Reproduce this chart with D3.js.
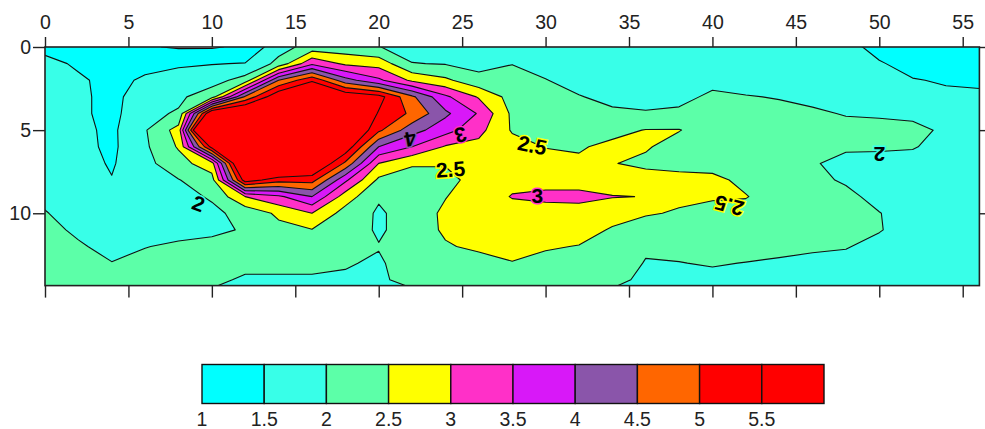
<!DOCTYPE html>
<html><head><meta charset="utf-8">
<script src="https://cdn.jsdelivr.net/npm/d3@7"></script>
<style>
body{margin:0;background:#fff}
svg{display:block}
text{font-family:"Liberation Sans",Arial,sans-serif}
</style></head>
<body><svg id="chart" width="985" height="429"></svg>
<script>
// ---------- data ----------
const levels = [1, 1.5, 2, 2.5, 3, 3.5, 4, 4.5, 5, 5.5];
const levelColors = ['#00FFFF','#38FFE8','#5CFFA8','#FFFF00','#FF30C8','#D818F8','#8A55AA','#FF6600','#FF0000','#FF0000'];
const legendLabels = ['1','1.5','2','2.5','3','3.5','4','4.5','5','5.5'];
const xTickValues = [0, 5, 10, 15, 20, 25, 30, 35, 40, 45, 50, 55];
const yTickValues = [0, 5, 10];
const gridX = [0,2,4,6,8,10,12,14,16,18,20,22,24,26,28,30,32,34,36,38,40,42,44,46,48,50,52,54,56];
const gridY = [0,1,2,3,4,5,6,7,8,9,10,11,12,13,14];
// grid values, one array per column (x), listed from y = 0 downwards
const columnValues = [
  [1.3, 1.7, 1.75, 1.75, 1.75, 1.8, 1.8, 1.85, 1.88, 1.92, 2.02, 2.1, 2.15, 2.15, 2.1],   // x=0
  [1.2, 1.4, 1.6, 1.6, 1.6, 1.62, 1.65, 1.7, 1.75, 1.8, 1.85, 1.94, 2.04, 2.1, 2.1],      // x=2
  [1.1, 1.2, 1.3, 1.35, 1.35, 1.4, 1.4, 1.45, 1.52, 1.7, 1.8, 1.85, 1.9, 2.01, 2.1],      // x=4
  [1.05, 1.3, 1.6, 1.78, 1.88, 1.96, 1.92, 1.86, 1.8, 1.8, 1.85, 1.92, 1.99, 2.09, 2.1],  // x=6
  [0.95, 1.45, 1.65, 1.9, 2.05, 2.7, 2.55, 2.3, 1.98, 1.85, 1.8, 1.9, 2.05, 2.1, 2.1],    // x=8
  [0.95, 1.48, 1.8, 2.3, 6.2, 9.0, 5.7, 2.8, 2.3, 2.05, 1.9, 1.93, 2.1, 2.1, 2.08],       // x=10
  [1.1, 1.52, 2.2, 4.6, 6.5, 7.2, 7.2, 7.0, 5.8, 3.0, 2.15, 2.03, 2.08, 2.1, 1.95],       // x=12
  [1.8, 2.15, 4.5, 6.0, 7.0, 7.3, 7.2, 7.0, 5.2, 3.4, 2.6, 2.35, 2.2, 2.1, 1.95],         // x=14
  [2.2, 3.4, 5.4, 6.8, 7.2, 7.3, 7.0, 6.3, 5.2, 4.0, 3.0, 2.48, 2.3, 2.1, 1.95],          // x=16
  [2.2, 2.9, 4.2, 6.0, 6.5, 6.4, 5.9, 4.9, 3.6, 2.75, 2.3, 2.25, 2.15, 2.03, 1.95],       // x=18
  [2.02, 2.8, 3.6, 5.7, 5.45, 5.1, 4.0, 3.0, 2.4, 2.05, 1.94, 1.94, 2.02, 1.95, 1.9],     // x=20
  [1.75, 2.02, 2.9, 4.6, 4.9, 4.2, 3.5, 2.55, 2.3, 2.25, 2.2, 2.2, 2.2, 2.2, 2.2],        // x=22
  [1.7, 1.97, 2.6, 3.6, 4.1, 3.7, 2.95, 2.55, 2.3, 2.48, 2.6, 2.58, 2.45, 2.3, 2.2],      // x=24
  [1.6, 1.85, 2.15, 2.95, 3.45, 3.15, 2.85, 2.7, 2.75, 2.8, 2.8, 2.75, 2.6, 2.3, 2.2],    // x=26
  [1.6, 1.99, 2.15, 2.3, 2.4, 2.45, 2.7, 2.8, 2.9, 3.02, 2.85, 2.75, 2.65, 2.48, 2.35],   // x=28
  [1.6, 1.8, 2.02, 2.15, 2.25, 2.35, 2.48, 2.7, 2.85, 3.1, 2.8, 2.7, 2.55, 2.35, 2.25],   // x=30
  [1.55, 1.65, 1.8, 2.03, 2.15, 2.25, 2.45, 2.58, 2.85, 3.1, 2.85, 2.7, 2.48, 2.3, 2.2],  // x=32
  [1.55, 1.58, 1.7, 1.85, 2.1, 2.35, 2.62, 2.52, 2.75, 3.02, 2.7, 2.45, 2.3, 2.2, 2.1],   // x=34
  [1.55, 1.58, 1.65, 1.8, 2.05, 2.52, 2.55, 2.4, 2.7, 2.99, 2.55, 2.25, 2.05, 1.98, 1.92],// x=36
  [1.55, 1.6, 1.65, 1.85, 2.1, 2.52, 2.3, 2.35, 2.65, 2.6, 2.45, 2.2, 2.1, 1.99, 1.9],    // x=38
  [1.55, 1.6, 1.85, 2.1, 2.2, 2.25, 2.3, 2.35, 2.6, 2.55, 2.35, 2.25, 2.15, 2.03, 1.9],   // x=40
  [1.55, 1.65, 1.85, 2.02, 2.15, 2.2, 2.25, 2.3, 2.4, 2.52, 2.35, 2.25, 2.15, 1.99, 1.85],// x=42
  [1.6, 1.7, 1.8, 1.98, 2.1, 2.15, 2.2, 2.25, 2.3, 2.3, 2.25, 2.2, 2.1, 1.95, 1.85],      // x=44
  [1.65, 1.7, 1.8, 1.92, 2.05, 2.1, 2.1, 2.03, 2.08, 2.15, 2.15, 2.1, 2.06, 1.9, 1.8],    // x=46
  [1.7, 1.7, 1.8, 1.9, 1.98, 2.1, 2.05, 1.9, 1.96, 2.08, 2.15, 2.1, 2.02, 1.9, 1.8],      // x=48
  [1.3, 1.55, 1.7, 1.85, 1.96, 2.1, 2.04, 1.9, 1.85, 1.9, 2.01, 2.02, 1.9, 1.8, 1.75],    // x=50
  [1.1, 1.3, 1.53, 1.75, 1.93, 2.08, 2.02, 1.9, 1.85, 1.85, 1.85, 1.85, 1.8, 1.75, 1.75], // x=52
  [1.05, 1.2, 1.45, 1.6, 1.8, 1.95, 1.9, 1.85, 1.8, 1.8, 1.8, 1.8, 1.78, 1.75, 1.75],     // x=54
  [1.05, 1.15, 1.4, 1.6, 1.7, 1.75, 1.75, 1.75, 1.75, 1.75, 1.75, 1.75, 1.75, 1.75, 1.75] // x=56
];
// contour labels: text, data position, rotation, halo colour
const labelTexts  = ['2', '4', '3', '2.5', '2.5', '3', '2.5', '2'];
const labelX      = [9.2, 21.9, 24.9, 24.3, 29.2, 29.5, 41.0, 50.0];
const labelY      = [9.4, 5.55, 5.3, 7.35, 5.9, 8.95, 9.55, 6.45];
const labelAngle  = [20, 170, 165, -4, 12, 0, 195, 180];
const labelHalo   = ['#38FFE8', '#8A55AA', '#FF30C8', '#FFFF00', '#FFFF00', '#FF30C8', '#FFFF00', '#38FFE8'];

// ---------- layout ----------
const svg = d3.select('#chart');
const x = d3.scaleLinear().domain([0, 56]).range([45, 979.4]);
const y = d3.scaleLinear().domain([0, 14.35]).range([47, 285.6]);

const nx = gridX.length, ny = gridY.length;
const values = new Array(nx * ny);
for (let j = 0; j < ny; j++) for (let i = 0; i < nx; i++) values[j * nx + i] = columnValues[i][j];

const dxStep = gridX[1] - gridX[0], dyStep = gridY[1] - gridY[0];
const proj = d3.geoTransform({
  point: function (gx, gy) {
    this.stream.point(x(gridX[0] + (gx - 0.5) * dxStep), y(gridY[0] + (gy - 0.5) * dyStep));
  }
});
const path = d3.geoPath(proj);

svg.append('defs').append('clipPath').attr('id', 'plotclip')
  .append('rect').attr('x', x(0)).attr('y', y(0)).attr('width', x(56) - x(0)).attr('height', y(14.35) - y(0));

const contours = d3.contours().size([nx, ny]).thresholds(levels)(values);

const plot = svg.append('g').attr('clip-path', 'url(#plotclip)');
plot.append('rect').attr('x', x(0)).attr('y', y(0)).attr('width', x(56) - x(0)).attr('height', y(14.35) - y(0)).attr('fill', '#fff');
plot.selectAll('path.band').data(contours).join('path')
  .attr('class', 'band')
  .attr('d', path)
  .attr('fill', (d, i) => levelColors[i])
  .attr('stroke', '#111')
  .attr('stroke-width', 1.1)
  .attr('stroke-linejoin', 'round');

// contour labels
plot.selectAll('text.lbl').data(labelTexts).join('text')
  .attr('class', 'lbl')
  .attr('transform', (d, i) => `translate(${x(labelX[i])},${y(labelY[i])}) rotate(${labelAngle[i]})`)
  .attr('text-anchor', 'middle')
  .attr('dy', '0.36em')
  .attr('font-size', 21)
  .attr('font-weight', 'bold')
  .attr('fill', '#000')
  .attr('stroke', (d, i) => labelHalo[i])
  .attr('stroke-width', 3)
  .attr('paint-order', 'stroke')
  .text(d => d);

// frame
svg.append('rect').attr('x', x(0)).attr('y', y(0)).attr('width', x(56) - x(0)).attr('height', y(14.35) - y(0))
  .attr('fill', 'none').attr('stroke', '#222').attr('stroke-width', 1.6);

// axes
function styleAxis(g) {
  g.select('.domain').remove();
  g.selectAll('.tick line').attr('stroke', '#222').attr('stroke-width', 1.4);
  g.selectAll('.tick text').attr('font-size', 19.5).attr('fill', '#222')
    .attr('font-family', '"Liberation Sans",Arial,sans-serif');
}
svg.append('g').attr('transform', `translate(0,${y(0)})`)
  .call(d3.axisTop(x).tickValues(xTickValues).tickSize(10).tickPadding(8)).call(styleAxis);
svg.append('g').attr('transform', `translate(0,${y(14.35)})`)
  .call(d3.axisBottom(x).tickValues(xTickValues).tickSize(12).tickFormat('')).call(styleAxis);
svg.append('g').attr('transform', `translate(${x(0)},0)`)
  .call(d3.axisLeft(y).tickValues(yTickValues).tickSize(12).tickPadding(2)).call(styleAxis);
svg.append('g').attr('transform', `translate(${x(56)},0)`)
  .call(d3.axisRight(y).tickValues(yTickValues).tickSize(6).tickFormat('')).call(styleAxis);

// legend
const lx = d3.scaleLinear().domain([0, levels.length]).range([202, 824]);
const leg = svg.append('g');
leg.selectAll('rect').data(levels).join('rect')
  .attr('x', (d, i) => lx(i)).attr('y', 364.5)
  .attr('width', (d, i) => lx(i + 1) - lx(i)).attr('height', 39)
  .attr('fill', (d, i) => levelColors[i])
  .attr('stroke', '#111').attr('stroke-width', 1.4);
leg.selectAll('text').data(legendLabels).join('text')
  .attr('x', (d, i) => lx(i)).attr('y', 426)
  .attr('text-anchor', 'middle')
  .attr('font-size', 19.5).attr('fill', '#222')
  .text(d => d);
</script>
</body></html>
